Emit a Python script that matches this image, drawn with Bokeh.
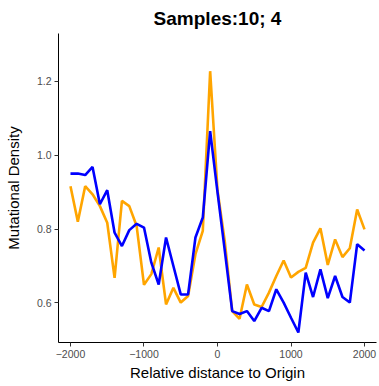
from bokeh.plotting import figure
from bokeh.models import FixedTicker, Range1d, PrintfTickFormatter
from bokeh.embed import file_html
from bokeh.resources import INLINE

positions = [-2000, -1900, -1800, -1700, -1600, -1500, -1400, -1300, -1200, -1100,
             -1000, -900, -800, -700, -600, -500, -400, -300, -200, -100,
             0, 100, 200, 300, 400, 500, 600, 700, 800, 900,
             1000, 1100, 1200, 1300, 1400, 1500, 1600, 1700, 1800, 1900, 2000]

density_orange = [0.916, 0.820, 0.916, 0.894, 0.862, 0.817, 0.668, 0.876, 0.862, 0.808,
                  0.649, 0.678, 0.750, 0.596, 0.641, 0.601, 0.619, 0.732, 0.795, 1.227,
                  0.905, 0.765, 0.578, 0.557, 0.650, 0.596, 0.589, 0.628, 0.673, 0.715,
                  0.669, 0.684, 0.695, 0.763, 0.802, 0.703, 0.772, 0.724, 0.748, 0.853, 0.799]

density_blue = [0.950, 0.950, 0.946, 0.968, 0.867, 0.905, 0.790, 0.754, 0.797, 0.814,
                0.804, 0.709, 0.650, 0.777, 0.700, 0.623, 0.623, 0.777, 0.831, 1.065,
                0.900, 0.740, 0.578, 0.570, 0.578, 0.551, 0.587, 0.578, 0.637, 0.601,
                0.560, 0.520, 0.682, 0.616, 0.691, 0.613, 0.673, 0.616, 0.601, 0.759, 0.742]

x_ticks = [-2000, -1000, 0, 1000, 2000]
x_tick_labels = {-2000: "\u22122000", -1000: "\u22121000", 0: "0", 1000: "1000", 2000: "2000"}
y_ticks = [0.6, 0.8, 1.0, 1.2]

title_text = "Samples:10; 4"
x_label = "Relative distance to Origin"
y_label = "Mutational Density"

p = figure(width=379, height=386, output_backend="svg", toolbar_location=None,
           x_range=Range1d(-2163, 2163), y_range=Range1d(0.493, 1.329),
           title=title_text,
           min_border_left=58, min_border_right=3, min_border_top=32, min_border_bottom=44)

p.title.text_font = "Liberation Sans"
p.title.text_font_style = "bold"
p.title.text_font_size = "19px"
p.title.align = "center"
p.title.text_color = "#000000"

p.outline_line_color = None
p.xgrid.grid_line_color = None
p.ygrid.grid_line_color = None
p.background_fill_color = "white"
p.border_fill_color = "white"

for ax in (p.xaxis[0], p.yaxis[0]):
    ax.axis_line_color = "#000000"
    ax.axis_line_width = 1
    ax.major_tick_line_color = "#333333"
    ax.major_tick_line_width = 1
    ax.major_tick_out = 4
    ax.major_tick_in = 0
    ax.minor_tick_line_color = None
    ax.major_label_text_font = "Liberation Sans"
    ax.major_label_text_font_size = "10.5px"
    ax.major_label_text_color = "#4D4D4D"
    ax.axis_label_text_font = "Liberation Sans"
    ax.axis_label_text_font_size = "15px"
    ax.axis_label_text_font_style = "normal"
    ax.axis_label_text_color = "#000000"

p.xaxis.ticker = FixedTicker(ticks=x_ticks)
p.xaxis.major_label_overrides = x_tick_labels
p.xaxis.major_label_standoff = 3
p.xaxis.axis_label = x_label
p.xaxis.axis_label_standoff = 3

p.yaxis.ticker = FixedTicker(ticks=y_ticks)
p.yaxis.formatter = PrintfTickFormatter(format="%.1f")
p.yaxis.major_label_standoff = 3
p.yaxis.axis_label = y_label
p.yaxis.axis_label_standoff = 12

p.line(positions, density_orange, line_color="#FFA500", line_width=2.6)
p.line(positions, density_blue, line_color="#0000FF", line_width=2.6)

open("out.html", "w").write(file_html(p, INLINE))
